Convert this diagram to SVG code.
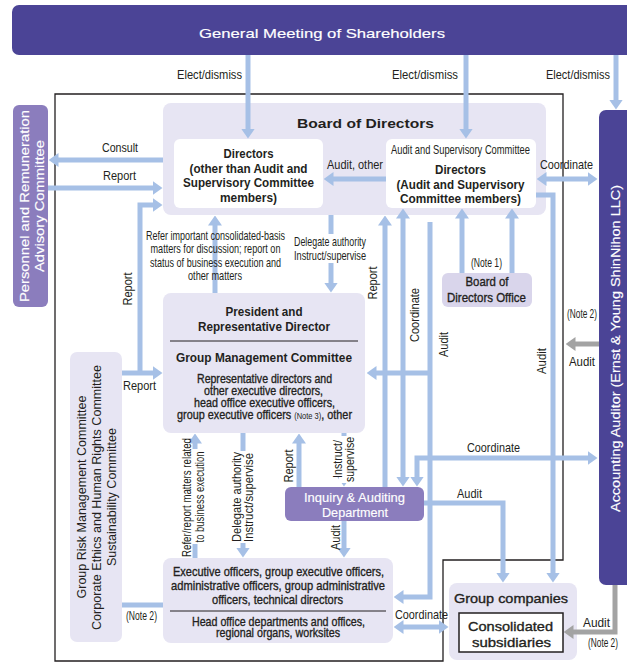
<svg xmlns="http://www.w3.org/2000/svg" width="627" height="662" viewBox="0 0 627 662">
<defs>
<style>
text{font-family:"Liberation Sans Narrow","Liberation Sans",Arial,sans-serif;fill:#231f20;font-size:13px}
.c{text-anchor:middle}
.w{fill:#fff}
.b{font-weight:bold}
.m{stroke:#231f20;stroke-width:0.35}
.mw{stroke:#fff;stroke-width:0.15}
.ln{fill:none;stroke:#a6c0e6;stroke-width:5}
.gl{fill:none;stroke:#a3a3a3;stroke-width:5}
.dark{fill:#4b4496}
.mid{fill:#8b7dbd}
.lav{fill:#e7e5f3}
.sep{stroke:#231f20;stroke-width:1}
.bg{fill:#fff}
</style>
<marker id="ah" viewBox="0 0 10 14" refX="0.5" refY="7" markerWidth="10" markerHeight="14" markerUnits="userSpaceOnUse" orient="auto-start-reverse"><path d="M0,0L10,7L0,14z" fill="#a6c0e6"/></marker>
<marker id="ag" viewBox="0 0 10 14" refX="0.5" refY="7" markerWidth="10" markerHeight="14" markerUnits="userSpaceOnUse" orient="auto-start-reverse"><path d="M0,0L10,7L0,14z" fill="#a3a3a3"/></marker>
</defs>
<rect width="627" height="662" fill="#fff"/>

<!-- consolidated-basis boundary -->
<path d="M55,94H563V560H443V661H55Z" fill="none" stroke="#231f20" stroke-width="1.3"/>

<g id="shareholders">
<rect x="12" y="5" width="630" height="50" rx="7" class="dark"/>
<text class="c w mw" x="322" y="38" font-size="19.5" textLength="246" lengthAdjust="spacingAndGlyphs">General Meeting of Shareholders</text>
</g>

<g id="personnel-committee">
<rect x="13" y="105" width="35" height="202" rx="6" class="mid"/>
<text class="c w mw" transform="translate(28.5,206) rotate(-90)" font-size="17" textLength="192" lengthAdjust="spacingAndGlyphs">Personnel and Remuneration</text>
<text class="c w mw" transform="translate(44,206) rotate(-90)" font-size="17" textLength="132" lengthAdjust="spacingAndGlyphs">Advisory Committee</text>
</g>

<g id="board">
<rect x="163" y="103" width="383" height="112" rx="8" class="lav"/>
<text class="c b" x="365.5" y="128" font-size="18" textLength="137" lengthAdjust="spacingAndGlyphs">Board of Directors</text>
<g id="directors">
<rect x="174" y="139" width="149" height="69" rx="6" fill="#fff"/>
<text class="c b" x="248.5" y="158" font-size="14" textLength="50" lengthAdjust="spacingAndGlyphs">Directors</text>
<text class="c b" x="248.5" y="172.5" font-size="14" textLength="118" lengthAdjust="spacingAndGlyphs">(other than Audit and</text>
<text class="c b" x="248.5" y="187" font-size="14" textLength="131" lengthAdjust="spacingAndGlyphs">Supervisory Committee</text>
<text class="c b" x="248.5" y="201.5" font-size="14" textLength="57" lengthAdjust="spacingAndGlyphs">members)</text>
</g>
<g id="audit-committee">
<rect x="386" y="139" width="150" height="69" rx="6" fill="#fff"/>
<text class="c" x="460.5" y="154" font-size="11.5" textLength="139" lengthAdjust="spacingAndGlyphs">Audit and Supervisory Committee</text>
<text class="c b" x="460.5" y="174" font-size="14" textLength="51" lengthAdjust="spacingAndGlyphs">Directors</text>
<text class="c b" x="460.5" y="188.5" font-size="14" textLength="128" lengthAdjust="spacingAndGlyphs">(Audit and Supervisory</text>
<text class="c b" x="460.5" y="203" font-size="14" textLength="121" lengthAdjust="spacingAndGlyphs">Committee members)</text>
</g>
</g>

<g id="board-office">
<rect x="442" y="273" width="90" height="34" rx="6" fill="#d9d5eb"/>
<text class="c m" x="487" y="286" font-size="14" textLength="43" lengthAdjust="spacingAndGlyphs">Board of</text>
<text class="c m" x="486.5" y="302" font-size="14" textLength="79" lengthAdjust="spacingAndGlyphs">Directors Office</text>
</g>

<g id="president">
<rect x="163" y="293" width="202" height="140" rx="8" class="lav"/>
<text class="c b" x="264" y="316" font-size="14" textLength="77" lengthAdjust="spacingAndGlyphs">President and</text>
<text class="c b" x="264" y="331" font-size="14" textLength="132" lengthAdjust="spacingAndGlyphs">Representative Director</text>
<path d="M170,341H358" class="sep"/>
<text class="c b" x="264" y="362" font-size="14" textLength="176" lengthAdjust="spacingAndGlyphs">Group Management Committee</text>
<text class="c m" x="264.5" y="382.5" font-size="12.5" textLength="135" lengthAdjust="spacingAndGlyphs">Representative directors and</text>
<text class="c m" x="263.5" y="394.5" font-size="12.5" textLength="119" lengthAdjust="spacingAndGlyphs">other executive directors,</text>
<text class="c m" x="264.5" y="406.5" font-size="12.5" textLength="141" lengthAdjust="spacingAndGlyphs">head office executive officers,</text>
<text class="m" x="177" y="419" font-size="12.5" textLength="175" lengthAdjust="spacingAndGlyphs">group executive officers <tspan font-size="9" stroke-width="0">(Note 3)</tspan>, other</text>
</g>

<g id="risk-committees">
<rect x="70" y="352" width="52" height="290" rx="7" class="lav"/>
<text class="c" transform="translate(85.5,497) rotate(-90)" font-size="15" textLength="203" lengthAdjust="spacingAndGlyphs">Group Risk Management Committee</text>
<text class="c" transform="translate(100.5,497.5) rotate(-90)" font-size="15" textLength="265" lengthAdjust="spacingAndGlyphs">Corporate Ethics and Human Rights Committee</text>
<text class="c" transform="translate(115.5,497) rotate(-90)" font-size="15" textLength="138" lengthAdjust="spacingAndGlyphs">Sustainability Committee</text>
</g>

<g id="inquiry-audit">
<rect x="285" y="487" width="139" height="34" rx="6" class="mid"/>
<text class="c w mw" x="354.5" y="502" font-size="15" textLength="101" lengthAdjust="spacingAndGlyphs">Inquiry &amp; Auditing</text>
<text class="c w mw" x="355" y="517" font-size="15" textLength="66" lengthAdjust="spacingAndGlyphs">Department</text>
</g>

<g id="executive-officers">
<rect x="163" y="558" width="230" height="85" rx="8" class="lav"/>
<text class="c m" x="278.5" y="575.5" textLength="211" lengthAdjust="spacingAndGlyphs">Executive officers, group executive officers,</text>
<text class="c m" x="278" y="589.5" textLength="214" lengthAdjust="spacingAndGlyphs">administrative officers, group administrative</text>
<text class="c m" x="277.5" y="604" textLength="131" lengthAdjust="spacingAndGlyphs">officers, technical directors</text>
<path d="M170,611H386" class="sep"/>
<text class="c m" x="278.5" y="625.5" font-size="12" textLength="173" lengthAdjust="spacingAndGlyphs">Head office departments and offices,</text>
<text class="c m" x="278" y="636.5" font-size="12" textLength="124" lengthAdjust="spacingAndGlyphs">regional organs, worksites</text>
</g>

<g id="group-companies">
<rect x="449" y="583" width="128" height="77" rx="8" class="lav"/>
<text class="c m" x="511" y="603" font-size="16.5" textLength="114" lengthAdjust="spacingAndGlyphs">Group companies</text>
<g id="consolidated">
<rect x="459" y="613" width="104" height="39" fill="#fff" stroke="#231f20" stroke-width="1.5"/>
<text class="c m" x="510.5" y="631" font-size="16.5" textLength="85" lengthAdjust="spacingAndGlyphs">Consolidated</text>
<text class="c m" x="511.5" y="647" font-size="16.5" textLength="79" lengthAdjust="spacingAndGlyphs">subsidiaries</text>
</g>
</g>

<g id="accounting-auditor">
<rect x="599" y="110" width="40" height="475" rx="7" class="dark"/>
<text class="c w mw" transform="translate(620,348.5) rotate(-90)" font-size="17" textLength="327" lengthAdjust="spacingAndGlyphs">Accounting Auditor (Ernst &amp; Young ShinNihon LLC)</text>
</g>

<g id="connectors">
<g marker-end="url(#ah)">
<path class="ln" d="M248,55V129"/>
<path class="ln" d="M466,55V129"/>
<path class="ln" d="M616,55V100"/>
<path class="ln" d="M163,160H58"/>
<path class="ln" d="M48,188H153"/>
<path class="ln" d="M122,373H153"/>
<path class="ln" d="M140,373V205H153"/>
<path class="ln" d="M386,179H333"/>
<path class="ln" d="M546,179H588" marker-start="url(#ah)"/>
<path class="ln" d="M215,293V225"/>
<path class="ln" d="M331,215V283"/>
<path class="ln" d="M462,273V218"/>
<path class="ln" d="M512,273V218"/>
<path class="ln" d="M385,487V225"/>
<path class="ln" d="M403,218V477" marker-start="url(#ah)"/>
<path class="ln" d="M430,222V597H403"/>
<path class="ln" d="M430,373H376"/>
<path class="ln" d="M588,458H417V477" marker-start="url(#ah)"/>
<path class="ln" d="M536,195H553V573"/>
<path class="ln" d="M424,503H503V573"/>
<path class="ln" d="M299,487V443"/>
<path class="ln" d="M344,433V477"/>
<path class="ln" d="M344,521V548"/>
<path class="ln" d="M195,558V443"/>
<path class="ln" d="M243,433V548"/>
<path class="ln" d="M403,627H439" marker-start="url(#ah)"/>
<path class="gl" d="M599,344H575" marker-end="url(#ag)"/>
<path class="gl" d="M615,585V632H573" marker-end="url(#ag)"/>
</g>
<path class="ln" d="M122,605H163"/>

<!-- label backings where a label sits on its line -->
<rect class="bg" x="291" y="234" width="77" height="29"/>
<rect class="bg" x="190" y="449" width="16" height="95"/>
<rect class="bg" x="238" y="451" width="19" height="92"/>
<rect class="bg" x="339" y="436" width="18" height="47"/>

<g id="labels">
<text class="c" x="209.5" y="79" textLength="65" lengthAdjust="spacingAndGlyphs">Elect/dismiss</text>
<text class="c" x="425" y="79" textLength="66" lengthAdjust="spacingAndGlyphs">Elect/dismiss</text>
<text class="c" x="578" y="79" textLength="64" lengthAdjust="spacingAndGlyphs">Elect/dismiss</text>
<text class="c" x="120" y="152" textLength="36" lengthAdjust="spacingAndGlyphs">Consult</text>
<text class="c" x="119.5" y="180" textLength="33" lengthAdjust="spacingAndGlyphs">Report</text>
<text class="c" x="355" y="169" textLength="56" lengthAdjust="spacingAndGlyphs">Audit, other</text>
<text class="c" x="566.5" y="169" textLength="53" lengthAdjust="spacingAndGlyphs">Coordinate</text>
<text class="c" transform="translate(132,289) rotate(-90)" textLength="33" lengthAdjust="spacingAndGlyphs">Report</text>
<text class="c" x="139.5" y="389.5" textLength="33" lengthAdjust="spacingAndGlyphs">Report</text>
<text class="c" x="141.5" y="620" font-size="9.5" textLength="31" lengthAdjust="spacingAndGlyphs">(Note 2)</text>

<text class="c" x="215.5" y="240" font-size="11.5" textLength="139" lengthAdjust="spacingAndGlyphs">Refer important consolidated-basis</text>
<text class="c" x="215.5" y="253" font-size="11.5" textLength="130" lengthAdjust="spacingAndGlyphs">matters for discussion; report on</text>
<text class="c" x="215.5" y="267" font-size="11.5" textLength="131" lengthAdjust="spacingAndGlyphs">status of business execution and</text>
<text class="c" x="215" y="279.5" font-size="11.5" textLength="54" lengthAdjust="spacingAndGlyphs">other matters</text>
<text x="294" y="246" font-size="11.5" textLength="72" lengthAdjust="spacingAndGlyphs">Delegate authority</text>
<text x="294" y="260" font-size="11.5" textLength="72" lengthAdjust="spacingAndGlyphs">Instruct/supervise</text>

<text class="c" x="486.5" y="267" font-size="9.5" textLength="31" lengthAdjust="spacingAndGlyphs">(Note 1)</text>
<text class="c" transform="translate(377,283) rotate(-90)" textLength="33" lengthAdjust="spacingAndGlyphs">Report</text>
<text class="c" transform="translate(419,315) rotate(-90)" textLength="54" lengthAdjust="spacingAndGlyphs">Coordinate</text>
<text class="c" transform="translate(448,344.5) rotate(-90)" textLength="25" lengthAdjust="spacingAndGlyphs">Audit</text>
<text class="c" transform="translate(546,361) rotate(-90)" textLength="26" lengthAdjust="spacingAndGlyphs">Audit</text>
<text class="c" x="582" y="318" font-size="9.5" textLength="30" lengthAdjust="spacingAndGlyphs">(Note 2)</text>
<text class="c" x="582" y="365.5" textLength="26" lengthAdjust="spacingAndGlyphs">Audit</text>
<text class="c" x="493.5" y="452" textLength="53" lengthAdjust="spacingAndGlyphs">Coordinate</text>
<text class="c" x="469.5" y="497.5" textLength="25" lengthAdjust="spacingAndGlyphs">Audit</text>

<text class="c" transform="translate(190.5,497.5) rotate(-90)" font-size="11.5" textLength="119" lengthAdjust="spacingAndGlyphs">Refer/report matters related</text>
<text class="c" transform="translate(203.5,497) rotate(-90)" font-size="11.5" textLength="91" lengthAdjust="spacingAndGlyphs">to business execution</text>
<text class="c" transform="translate(240.5,497) rotate(-90)" textLength="90" lengthAdjust="spacingAndGlyphs">Delegate authority</text>
<text class="c" transform="translate(253,497.5) rotate(-90)" textLength="89" lengthAdjust="spacingAndGlyphs">Instruct/supervise</text>
<text class="c" transform="translate(292.5,466) rotate(-90)" textLength="33" lengthAdjust="spacingAndGlyphs">Report</text>
<text class="c" transform="translate(341.5,459) rotate(-90)" textLength="38" lengthAdjust="spacingAndGlyphs">Instruct/</text>
<text class="c" transform="translate(354,459.5) rotate(-90)" textLength="45" lengthAdjust="spacingAndGlyphs">supervise</text>
<text class="c" transform="translate(340,537.5) rotate(-90)" textLength="25" lengthAdjust="spacingAndGlyphs">Audit</text>

<text class="c" x="421.5" y="619" textLength="53" lengthAdjust="spacingAndGlyphs">Coordinate</text>
<text class="c" x="596.5" y="626.5" textLength="27" lengthAdjust="spacingAndGlyphs">Audit</text>
<text class="c" x="603" y="647" font-size="9.5" textLength="30" lengthAdjust="spacingAndGlyphs">(Note 2)</text>
</g>
</g>
</svg>
